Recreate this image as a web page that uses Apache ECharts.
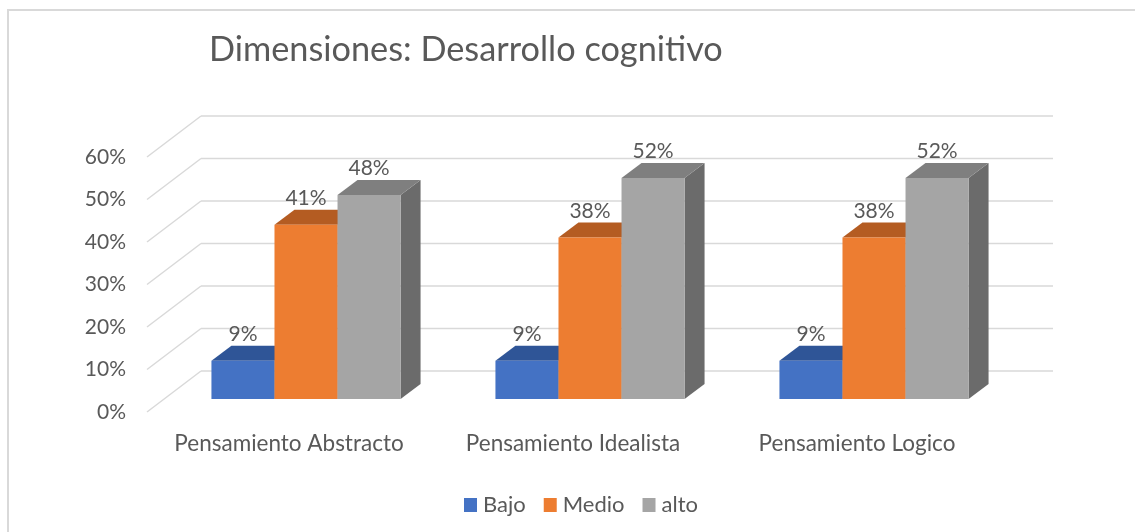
<!DOCTYPE html>
<html>
<head>
<meta charset="utf-8">
<script src="https://cdn.jsdelivr.net/npm/echarts@6/dist/echarts.min.js"></script>
<style>
  html, body { margin: 0; padding: 0; background: #fff; }
  #chart { width: 1135px; height: 532px; }
</style>
</head>
<body>
<div id="chart"></div>
<script>
// data
const categories = ['Pensamiento Abstracto', 'Pensamiento Idealista', 'Pensamiento Logico'];
const seriesNames = ['Bajo', 'Medio', 'alto'];
const bajo = [0.09, 0.09, 0.09];
const medio = [0.41, 0.38, 0.38];
const alto = [0.48, 0.52, 0.52];
const yTicks = [0, 0.1, 0.2, 0.3, 0.4, 0.5, 0.6];

// 3d look: full depth offset of the back wall, bars sit between F1 and F2
const DX = 54, DY = -41;
const F1 = 0.315, F2 = 0.685;
const BAR_FRAC = 0.222;
const TEXT = '#595959';
const GRID_COLOR = '#d9d9d9';

// front / top / side colours per series
const faces = [
    { front: '#4472C4', top: '#2F5597', side: '#294C8A' },
    { front: '#ED7D31', top: '#B45C22', side: '#A0501C' },
    { front: '#A5A5A5', top: '#7F7F7F', side: '#6B6B6B' },
];

let myChart = echarts.init(document.getElementById('chart'));

function barRender(idx) {
    return function (params, api) {
        let cat = api.value(0), val = api.value(1);
        let band = api.size([1, 0])[0];
        let w = band * BAR_FRAC;
        let c = api.coord([cat, val]);
        let base = api.coord([cat, 0]);
        let x0 = c[0] - 1.5 * w + idx * w;
        let fx = DX * F1, fy = DY * F1, bx = DX * F2, by = DY * F2;
        let yTop = c[1], yBot = base[1];
        let col = faces[idx];
        return {
            type: 'group',
            children: [
                {
                    type: 'polygon',
                    shape: { points: [[x0 + w + fx, yTop + fy], [x0 + w + bx, yTop + by], [x0 + w + bx, yBot + by], [x0 + w + fx, yBot + fy]] },
                    style: { fill: col.side }
                },
                {
                    type: 'polygon',
                    shape: { points: [[x0 + fx, yTop + fy], [x0 + w + fx, yTop + fy], [x0 + w + bx, yTop + by], [x0 + bx, yTop + by]] },
                    style: { fill: col.top }
                },
                {
                    type: 'rect',
                    shape: { x: x0 + fx, y: yTop + fy, width: w, height: yBot - yTop },
                    style: { fill: col.front }
                },
                {
                    type: 'text',
                    x: x0 + fx + w / 2,
                    y: yTop + by - 1,
                    style: {
                        text: Math.round(val * 100) + '%',
                        fill: TEXT,
                        font: '21px Lato',
                        align: 'center',
                        verticalAlign: 'bottom'
                    }
                }
            ]
        };
    };
}

function wallRender(params, api) {
    let cs = params.coordSys;
    let y = api.coord([0, api.value(1)])[1];
    let left = cs.x, right = cs.x + cs.width;
    return {
        type: 'group',
        children: [
            { type: 'line', shape: { x1: left, y1: y, x2: left + DX, y2: y + DY }, style: { stroke: GRID_COLOR, lineWidth: 1.5 } },
            { type: 'line', shape: { x1: left + DX, y1: y + DY, x2: right + DX, y2: y + DY }, style: { stroke: GRID_COLOR, lineWidth: 1.5 } }
        ]
    };
}

let values = [bajo, medio, alto];

myChart.setOption({
    animation: false,
    textStyle: { fontFamily: 'Lato', color: TEXT },
    title: {
        text: 'Dimensiones: Desarrollo cognitivo',
        left: 204,
        top: 28,
        textStyle: { fontFamily: 'Lato', fontSize: 34.3, fontWeight: 'normal', color: TEXT }
    },
    graphic: [{
        type: 'rect',
        shape: { x: 8, y: 10, width: 1200, height: 600 },
        style: { fill: null, stroke: GRID_COLOR, lineWidth: 2 },
        silent: true
    }],
    legend: {
        data: seriesNames,
        left: 459,
        top: 489,
        icon: 'rect',
        itemWidth: 13,
        itemHeight: 14,
        itemGap: 18,
        textStyle: { fontFamily: 'Lato', fontSize: 22, color: TEXT, padding: [0, 0, 0, 1] }
    },
    grid: { left: 147, right: 136, top: 157, bottom: 120 },
    xAxis: {
        type: 'category',
        data: categories,
        axisLine: { show: false },
        axisTick: { show: false },
        axisLabel: { interval: 0, fontSize: 22.5, color: TEXT, margin: 20, fontFamily: 'Lato' }
    },
    yAxis: {
        type: 'value',
        min: 0,
        max: 0.6,
        interval: 0.1,
        axisLine: { show: false },
        axisTick: { show: false },
        splitLine: { show: false },
        axisLabel: {
            fontSize: 21, color: TEXT, margin: 21, fontFamily: 'Lato',
            formatter: function (v) { return Math.round(v * 100) + '%'; }
        }
    },
    series: [
        {
            name: 'walls',
            type: 'custom',
            silent: true,
            renderItem: wallRender,
            data: yTicks.map(function (t) { return [0, t]; })
        }
    ].concat(seriesNames.map(function (name, idx) {
        return {
            name: name,
            type: 'custom',
            itemStyle: { color: faces[idx].front },
            renderItem: barRender(idx),
            encode: { x: 0, y: 1 },
            data: values[idx].map(function (v, i) { return [i, v]; })
        };
    }))
});
</script>
</body>
</html>
